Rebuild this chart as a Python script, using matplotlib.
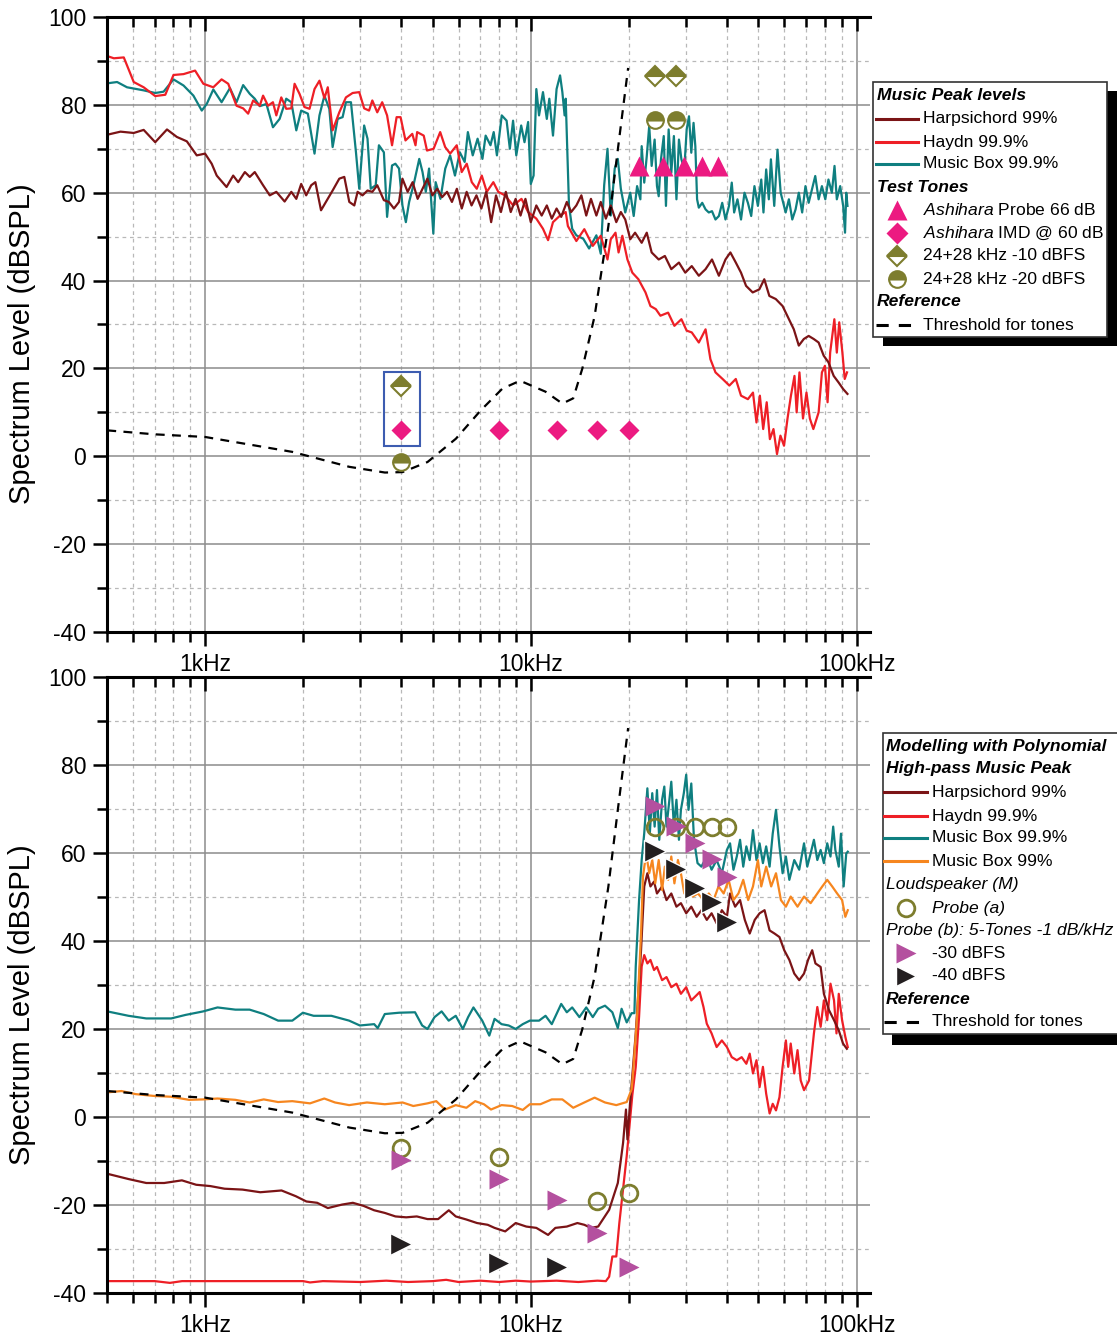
import numpy as np
import matplotlib
matplotlib.use('Agg')
import matplotlib.pyplot as plt
from matplotlib.patches import Rectangle
from matplotlib.ticker import FixedLocator, LogLocator, NullFormatter

plt.rcParams['font.family'] = 'Liberation Sans'
plt.rcParams['mathtext.fontset'] = 'custom'
plt.rcParams['mathtext.it'] = 'Liberation Sans:italic'
plt.rcParams['mathtext.rm'] = 'Liberation Sans'
plt.rcParams['axes.unicode_minus'] = False

# ---------------- data (frequency in Hz, level in dBSPL) ----------------
top_haydn = [(501, 91.1), (525, 90.6), (563, 90.8), (604, 85.2), (648, 84.0), (703, 82.0), (755, 82.3),
             (800, 86.8), (859, 87.0), (932, 87.8), (988, 84.8), (1060, 84.0), (1124, 85.8), (1178, 84.8),
             (1249, 79.8), (1309, 79.2), (1356, 78.0), (1405, 81.0), (1472, 79.8), (1507, 82.1), (1561, 79.8),
             (1616, 80.6), (1655, 77.6), (1714, 81.7), (1775, 79.1), (1840, 79.2), (1883, 84.8), (1950, 82.5),
             (2020, 79.5), (2093, 79.1), (2168, 83.6), (2245, 85.5), (2325, 81.5), (2381, 84.0), (2464, 74.2),
             (2583, 78.3), (2707, 81.7), (2838, 82.7), (2974, 82.9), (3079, 79.2), (3188, 78.7), (3262, 81.0),
             (3378, 78.3), (3498, 80.6), (3621, 77.6), (3750, 70.8), (3873, 77.2), (3983, 77.2), (4124, 71.9),
             (4327, 73.4), (4427, 70.8), (4478, 73.8), (4692, 73.0), (4801, 69.6), (5030, 70.0), (5271, 73.8),
             (5459, 70.4), (5655, 68.9), (5925, 70.8), (6136, 64.7), (6359, 66.6), (6589, 62.4), (6826, 60.9),
             (7072, 63.9), (7327, 60.2), (7674, 62.4), (7947, 60.2), (8329, 59.4), (8831, 57.1), (9365, 58.6),
             (9814, 55.6), (10400, 54.1), (10900, 51.8), (11300, 49.2), (11700, 53.3), (12300, 54.8),
             (12800, 55.6), (13000, 52.4), (13800, 49.0), (14600, 51.7), (15500, 47.9), (16400, 50.2),
             (17200, 44.8), (17600, 49.4), (18200, 50.9), (18600, 46.4), (19100, 50.2), (19800, 44.8),
             (20500, 41.8), (21400, 40.3), (22500, 37.3), (23300, 34.2), (24200, 33.5), (25000, 32.0),
             (26400, 32.7), (27600, 29.7), (29000, 31.2), (30100, 28.6), (31200, 28.2), (32800, 25.9),
             (34400, 28.9), (35600, 22.1), (36900, 19.1), (38800, 17.6), (40700, 16.1), (42600, 17.6),
             (44200, 13.8), (46400, 13.0), (48100, 14.5), (49300, 7.7), (50500, 13.8), (51700, 6.2),
             (53000, 12.3), (54200, 3.9), (55600, 6.2), (57000, 0.5), (58400, 4.7), (59900, 2.4), (61400, 8.6),
             (62900, 13.8), (64500, 18.3), (65500, 10.0), (66800, 19.1), (68500, 8.6), (70200, 14.5),
             (71900, 8.6), (73700, 6.2), (76500, 10.0), (78300, 19.1), (80000, 20.6), (81500, 12.3),
             (83000, 23.6), (85500, 31.2), (87000, 23.6), (88500, 30.5), (90500, 23.6), (92000, 17.6),
             (93500, 19.1)]

top_mbox = [(501, 84.9), (537, 85.2), (576, 84.0), (648, 83.3), (703, 82.7), (746, 83.0), (800, 85.8),
            (859, 84.4), (921, 82.1), (977, 78.7), (1012, 80.2), (1060, 83.5), (1124, 80.6), (1192, 83.8),
            (1249, 80.6), (1309, 84.5), (1372, 82.5), (1421, 81.4), (1472, 79.7), (1543, 80.2), (1616, 74.9),
            (1694, 76.8), (1775, 81.4), (1840, 80.6), (1906, 74.2), (1973, 78.7), (2068, 78.0), (2168, 68.9),
            (2245, 77.6), (2325, 82.1), (2407, 79.1), (2464, 70.4), (2553, 76.8), (2644, 77.2), (2707, 80.6),
            (2805, 80.6), (2906, 69.2), (2974, 60.9), (3079, 75.3), (3153, 72.3), (3226, 60.9), (3341, 61.7),
            (3418, 70.8), (3540, 69.2), (3621, 54.5), (3750, 66.2), (3840, 66.6), (3940, 65.5), (4036, 57.1),
            (4135, 53.3), (4232, 57.9), (4385, 62.4), (4546, 67.7), (4652, 64.7), (4761, 60.2), (4872, 65.5),
            (5021, 50.7), (5104, 62.4), (5280, 58.6), (5463, 65.5), (5654, 68.5), (5851, 63.9), (6055, 69.2),
            (6266, 67.0), (6410, 73.8), (6634, 68.5), (6866, 72.3), (7105, 67.7), (7268, 73.0), (7521, 70.8),
            (7694, 73.8), (7871, 68.5), (8145, 77.6), (8429, 76.4), (8624, 70.0), (8823, 76.4), (9026, 68.5),
            (9344, 75.3), (9566, 71.5), (9814, 76.1), (10000, 62.0), (10200, 63.9), (10400, 83.6),
            (10600, 77.6), (10900, 82.9), (11200, 76.8), (11400, 81.4), (11700, 73.0), (12000, 83.6),
            (12300, 86.7), (12500, 82.9), (12700, 77.6), (12800, 81.4), (13100, 57.1), (13400, 51.8),
            (13800, 50.3), (14500, 49.5), (15100, 47.3), (15900, 50.3), (16400, 46.1), (16800, 61.7),
            (17200, 70.0), (17600, 54.8), (18100, 65.5), (18500, 67.7), (18900, 60.9), (19500, 55.5),
            (20200, 60.0), (20700, 54.7), (21200, 61.5), (21700, 58.5), (21900, 70.6), (22300, 62.3),
            (22700, 68.3), (23100, 75.2), (23500, 66.1), (24000, 72.1), (24400, 61.5), (24700, 59.2),
            (25100, 67.6), (25600, 72.9), (26000, 57.0), (26500, 74.4), (27000, 64.5), (27500, 72.9),
            (28000, 58.5), (28500, 72.1), (29000, 67.6), (29600, 65.3), (30100, 74.4), (30600, 77.4),
            (31100, 69.1), (31600, 75.9), (32000, 70.6), (32400, 58.5), (32800, 56.6), (33600, 57.7),
            (34400, 56.2), (35200, 55.5), (36000, 55.8), (36900, 53.9), (37800, 54.7), (38700, 57.7),
            (39600, 53.9), (40600, 57.0), (41400, 62.3), (42100, 55.5), (43100, 58.5), (44200, 53.9),
            (45300, 60.0), (46400, 57.7), (47500, 54.7), (48600, 61.5), (49800, 57.0), (51000, 63.0),
            (51800, 55.5), (52800, 65.3), (53800, 58.5), (54600, 67.6), (55900, 57.0), (57200, 69.8),
            (58500, 60.0), (60600, 55.5), (62000, 58.5), (63500, 53.9), (65000, 56.2), (66500, 60.0),
            (68100, 55.5), (69700, 61.5), (71300, 57.7), (73000, 60.8), (74700, 63.8), (76500, 58.5),
            (78300, 61.5), (80200, 58.5), (82000, 63.0), (84000, 60.0), (85600, 66.1), (87000, 58.5),
            (89100, 61.5), (91000, 57.0), (92200, 50.9), (93000, 60.0), (93800, 57.0)]

top_harp = [(501, 73.2), (550, 73.9), (604, 73.6), (648, 74.3), (703, 71.5), (764, 74.4), (819, 72.7),
            (879, 71.7), (943, 68.5), (1000, 68.9), (1048, 66.6), (1086, 63.9), (1164, 61.3), (1220, 63.9),
            (1264, 62.4), (1325, 64.7), (1372, 63.6), (1421, 64.7), (1507, 61.7), (1580, 59.4), (1655, 60.2),
            (1755, 58.0), (1840, 60.2), (1906, 58.6), (1973, 62.0), (2044, 59.4), (2118, 61.7), (2181, 62.4),
            (2270, 56.0), (2381, 58.6), (2464, 60.5), (2583, 63.2), (2676, 63.6), (2772, 57.9), (2872, 57.1),
            (2940, 60.2), (3044, 59.4), (3153, 60.5), (3262, 60.2), (3378, 61.7), (3540, 58.3), (3666, 57.9),
            (3801, 56.4), (3940, 57.9), (4036, 63.2), (4188, 60.2), (4338, 62.4), (4494, 58.6), (4652, 60.9),
            (4816, 63.2), (4987, 59.4), (5163, 60.9), (5344, 59.0), (5532, 60.2), (5727, 57.9), (5930, 60.9),
            (6139, 56.4), (6355, 60.2), (6579, 57.1), (6811, 59.4), (7051, 56.4), (7299, 60.2), (7556, 53.3),
            (7822, 59.4), (8098, 55.6), (8383, 60.2), (8678, 55.6), (8984, 58.6), (9301, 54.8), (9629, 58.6),
            (10000, 53.3), (10400, 57.1), (10800, 54.8), (11200, 57.1), (11600, 54.1), (12000, 56.4),
            (12400, 54.5), (12900, 57.9), (13300, 55.6), (13800, 57.1), (14300, 59.4), (14800, 54.8),
            (15300, 58.6), (15900, 54.8), (16400, 57.9), (17000, 54.1), (17600, 57.1), (18300, 53.3),
            (18900, 55.6), (19500, 53.9), (20200, 49.4), (20900, 50.9), (21900, 48.6), (22700, 50.9),
            (23500, 46.4), (24700, 44.8), (25800, 45.6), (27000, 42.6), (28500, 44.1), (29800, 41.8),
            (31200, 43.3), (32800, 41.1), (34400, 42.6), (36000, 44.8), (37800, 41.1), (39600, 44.8),
            (41000, 46.4), (42600, 44.1), (44200, 41.8), (45800, 38.8), (48000, 37.3), (50300, 38.0),
            (52100, 40.3), (54000, 36.5), (56500, 35.8), (59300, 34.2), (62000, 31.2), (64200, 28.9),
            (66500, 25.2), (68900, 26.7), (71300, 27.4), (73900, 26.7), (76500, 25.9), (79300, 22.9),
            (82000, 21.4), (85100, 18.3), (88100, 16.8), (91000, 15.3), (93800, 14.2)]

threshold = [(501, 5.9), (700, 5.0), (1000, 4.4), (1854, 1.0), (2772, -2.4), (3566, -3.7), (4040, -3.6),
             (4820, -1.3), (5890, 4.0), (7030, 10.5), (8180, 15.4), (9270, 17.2), (11100, 14.7),
             (12500, 12.0), (13500, 13.2), (14400, 20.0), (15100, 26.5), (15700, 31.9), (17300, 52.3),
             (18500, 69.8), (19900, 88.4)]

bot_mbox = [(501, 24.0), (582, 23.0), (660, 22.4), (787, 22.4), (871, 23.2), (987, 24.0), (1092, 24.9),
            (1239, 24.4), (1370, 24.4), (1514, 23.4), (1676, 21.9), (1853, 21.9), (1997, 23.7), (2154, 23.0),
            (2442, 23.0), (2769, 21.9), (2987, 20.8), (3305, 21.1), (3389, 20.2), (3563, 23.4), (3943, 23.7),
            (4412, 23.8), (4640, 20.8), (4818, 20.0), (5064, 22.7), (5324, 24.0), (5597, 21.9), (5884, 23.0),
            (6185, 20.0), (6421, 22.7), (6667, 24.9), (7095, 21.9), (7458, 18.5), (7741, 22.3), (8135, 21.1),
            (8551, 20.8), (8988, 20.0), (9448, 21.1), (9932, 21.9), (10600, 21.9), (11100, 23.0),
            (11600, 21.1), (12400, 25.7), (12900, 23.8), (13400, 24.9), (14100, 22.7), (14800, 24.9),
            (15500, 22.7), (16100, 24.6), (16900, 25.3), (17800, 23.8), (18500, 20.2), (19000, 24.6),
            (19700, 21.5), (20400, 23.6), (20800, 23.6), (21000, 34.2), (21500, 49.3), (21900, 58.4),
            (22300, 64.5), (22800, 74.7), (23200, 64.5), (23600, 73.6), (24000, 66.0), (24400, 74.3),
            (24800, 63.0), (25300, 72.1), (25700, 75.1), (26100, 66.0), (26500, 70.5), (27000, 76.2),
            (27500, 66.0), (28000, 72.1), (28500, 63.0), (28900, 69.8), (29500, 73.6), (30000, 77.8),
            (30500, 69.8), (31100, 75.8), (31700, 63.0), (32500, 57.7), (33400, 56.9), (34700, 59.2),
            (35900, 56.2), (37200, 58.4), (38600, 55.4), (40000, 60.7), (40900, 62.2), (41900, 56.2),
            (42900, 59.2), (43900, 63.0), (44900, 56.9), (45900, 61.5), (47000, 58.4), (48100, 65.2),
            (49300, 58.4), (50400, 62.2), (51600, 57.7), (52800, 61.5), (54100, 56.9), (55300, 64.4),
            (56600, 69.8), (58000, 61.5), (59300, 55.4), (60700, 59.2), (62200, 53.9), (64400, 58.4),
            (66700, 56.2), (69000, 62.2), (70600, 56.9), (72300, 59.9), (74000, 63.0), (75800, 58.4),
            (77600, 60.7), (79400, 57.7), (81300, 62.2), (83200, 59.2), (84800, 66.0), (86100, 60.7),
            (88200, 56.9), (89600, 64.4), (91300, 52.4), (93000, 59.9), (94000, 60.3)]

bot_mbox99 = [(501, 5.6), (554, 5.9), (612, 5.2), (694, 4.8), (787, 4.6), (893, 3.9), (987, 4.0), (1092, 4.2),
              (1239, 3.9), (1370, 3.3), (1514, 4.0), (1676, 3.4), (1853, 3.6), (2100, 3.1), (2323, 4.2),
              (2506, 3.3), (2769, 2.7), (3140, 3.3), (3563, 2.9), (4041, 3.3), (4358, 2.5), (4818, 3.1),
              (5127, 3.6), (5455, 1.7), (5884, 2.7), (6344, 2.1), (6751, 3.6), (7180, 2.9), (7549, 1.7),
              (8135, 2.7), (8767, 2.5), (9448, 1.6), (9932, 2.9), (10700, 2.9), (11600, 4.0), (12500, 4.0),
              (13500, 2.1), (14600, 3.3), (15700, 4.4), (16900, 3.3), (18300, 2.7), (19700, 3.4), (20400, 6.3),
              (20600, 9.9), (21200, 22.8), (21800, 41.7), (22100, 54.6), (22600, 59.9), (23100, 55.4),
              (23600, 58.4), (24100, 53.1), (24700, 58.4), (25300, 51.6), (25800, 56.9), (26400, 53.9),
              (27000, 59.2), (27600, 53.1), (28300, 58.4), (28900, 55.4), (29600, 50.8), (30500, 52.4),
              (31400, 50.1), (32600, 50.8), (33900, 49.3), (35200, 50.8), (36400, 49.3), (37700, 52.4),
              (39100, 50.8), (40500, 53.9), (41900, 49.3), (43400, 50.8), (44900, 53.9), (46500, 49.3),
              (48100, 52.4), (49800, 58.4), (51000, 52.4), (52800, 56.9), (54700, 52.4), (56600, 55.4),
              (58600, 49.3), (60700, 47.8), (62800, 50.1), (65900, 47.8), (69000, 50.1), (72300, 48.6),
              (75800, 50.8), (78500, 52.4), (81300, 53.9), (84200, 52.4), (87200, 50.8), (90300, 49.3),
              (92400, 45.5), (94000, 47.0)]

bot_harp = [(501, -12.9), (582, -14.1), (660, -15.0), (749, -15.0), (849, -14.4), (939, -15.4), (1038, -15.7),
            (1148, -16.3), (1303, -16.5), (1477, -17.1), (1717, -16.7), (1899, -18.0), (2047, -19.2),
            (2209, -19.5), (2382, -20.7), (2635, -19.9), (2843, -19.5), (3066, -20.2), (3305, -21.2),
            (3563, -21.8), (3842, -22.6), (4144, -22.8), (4468, -22.6), (4818, -23.2), (5194, -23.2),
            (5601, -21.2), (5884, -22.6), (6344, -23.3), (6840, -24.1), (7375, -24.5), (7741, -25.2),
            (8345, -26.0), (8988, -24.1), (9686, -24.9), (10400, -25.2), (11300, -26.8), (11900, -25.2),
            (12900, -24.9), (13900, -24.1), (14600, -24.5), (15300, -25.2), (16100, -24.9), (17400, -21.1),
            (18500, -15.0), (19200, -5.9), (19600, 1.7), (19800, -5.1), (20100, 1.6), (21000, 19.0),
            (21800, 37.9), (22300, 52.4), (22800, 55.4), (23300, 52.4), (23900, 53.5), (24400, 50.8),
            (25300, 52.4), (26100, 49.3), (27000, 50.8), (28000, 47.8), (28900, 48.6), (30000, 46.3),
            (31100, 47.8), (32300, 45.5), (33400, 47.0), (34700, 44.8), (35900, 46.3), (37200, 44.0),
            (38600, 47.0), (40000, 45.5), (40900, 50.8), (42400, 47.8), (43900, 49.3), (45400, 44.8),
            (47000, 41.7), (48700, 44.8), (50400, 46.3), (52200, 47.0), (54100, 42.4), (56000, 41.7),
            (58000, 40.9), (60000, 37.9), (62200, 35.7), (64400, 32.6), (66700, 31.1), (69000, 32.6),
            (71000, 35.7), (73100, 37.9), (74800, 34.9), (77600, 34.1), (79400, 28.0), (82300, 24.3),
            (85300, 22.0), (88200, 19.7), (90900, 16.7), (93400, 15.5)]

bot_haydn = [(501, -37.3), (700, -37.3), (780, -37.7), (850, -37.3), (2000, -37.3), (2100, -37.6), (2300, -37.3),
             (3000, -37.5), (3600, -37.2), (4200, -37.5), (5000, -37.3), (5500, -37.0), (6000, -37.5),
             (7000, -37.2), (8000, -37.5), (9000, -37.2), (10000, -37.4), (12000, -37.2), (14000, -37.5),
             (16000, -37.2), (17000, -37.3), (17400, -36.3), (17800, -31.7), (18300, -31.7), (18700, -24.1),
             (19700, -8.9), (20500, 5.0), (21000, 11.4), (21500, 22.8), (21900, 34.2), (22300, 36.8),
             (22800, 34.9), (23300, 35.7), (23900, 33.4), (24400, 34.1), (25300, 31.1), (26100, 31.8),
             (27000, 29.5), (28000, 30.3), (28900, 28.0), (30000, 29.5), (31100, 26.5), (32300, 27.7),
             (33000, 28.4), (33900, 25.0), (34700, 21.2), (35900, 19.0), (37200, 15.9), (38600, 17.4),
             (40000, 15.9), (41400, 13.6), (42900, 12.9), (44400, 13.6), (45900, 12.1), (47000, 14.4),
             (48100, 9.9), (49300, 12.9), (50400, 6.8), (51600, 11.4), (52800, 5.3), (54100, 0.8), (55300, 3.0),
             (56600, 1.5), (58000, 4.5), (59300, 11.4), (60700, 17.4), (61700, 11.4), (62800, 16.7),
             (64400, 9.9), (65900, 15.2), (67400, 8.3), (69000, 6.1), (71500, 8.3), (74000, 19.0), (75800, 25.0),
             (77600, 20.5), (79400, 26.5), (81300, 22.0), (83200, 30.3), (85300, 26.5), (86800, 19.0),
             (88200, 28.0), (90300, 22.0), (92400, 18.2), (94000, 15.9)]

# test tones (top)
probe_f = [21500, 25500, 29500, 33500, 37500]
probe_db = [66, 66, 66, 66, 66]
imd_f = [4000, 8000, 12000, 16000, 20000]
imd_db = [6, 6, 6, 6, 6]
tone10_f = [4000, 24000, 28000]
tone10_db = [16.0, 86.6, 86.6]
tone20_f = [4000, 24000, 28000]
tone20_db = [-1.2, 76.6, 76.6]

# loudspeaker model markers (bottom)
probe_a_f = [4000, 8000, 16000, 20000, 24000, 28000, 32000, 36000, 40000]
probe_a_db = [-7.0, -9.1, -19.2, -17.2, 66, 66, 66, 66, 66]
b30_f = [4000, 8000, 12000, 16000, 20000, 24000, 28000, 32000, 36000, 40000]
b30_db = [-9.8, -14.2, -18.9, -26.4, -34.0, 70.7, 66.1, 62.3, 58.6, 54.5]
b40_f = [4000, 8000, 12000, 24000, 28000, 32000, 36000, 40000]
b40_db = [-28.9, -33.2, -34.1, 60.5, 56.4, 52.0, 48.9, 44.3]

DARKRED = '#7b1416'
RED = '#ee1f26'
TEAL = '#0f7f80'
ORANGE = '#f6861f'
PINK = '#ec1a81'
OLIVE = '#7d7d2e'
VIOLET = '#b4509f'
BLACK = '#231f20'

W, H = 1117, 1335
fig = plt.figure(figsize=(W / 100, H / 100), dpi=100)


def box(l, t, r, b):
    return [l / W, 1 - b / H, (r - l) / W, (b - t) / H]


def log_x(ax):
    ax.set_xscale('log')
    ax.set_xlim(500, 110000)
    ax.xaxis.set_major_locator(FixedLocator([1e3, 1e4, 1e5]))
    ax.xaxis.set_minor_locator(LogLocator(base=10, subs=np.arange(2, 10)))
    ax.xaxis.set_minor_formatter(NullFormatter())


def style(ax):
    log_x(ax)
    ax.set_xticklabels(['1kHz', '10kHz', '100kHz'])
    ax.set_ylim(-40, 100)
    ax.set_yticks(np.arange(-40, 101, 20))
    ax.set_yticks(np.arange(-30, 100, 20), minor=True)
    ax.grid(which='major', color='#8c8c8c', lw=1.1)
    ax.grid(which='minor', color='#b8b8b8', lw=0.9, ls=(0, (3, 3)))
    ax.set_axisbelow(True)
    ax.tick_params(which='both', direction='out', width=1.8, labelsize=16.5, pad=5)
    ax.tick_params(which='major', length=10)
    ax.tick_params(which='minor', length=7)
    ax.spines['right'].set_visible(False)
    ax.spines['top'].set_visible(False)
    for s in ['left', 'bottom']:
        ax.spines[s].set_linewidth(2.2)
    # top frame with inward ticks
    tw = ax.twiny()
    log_x(tw)
    tw.tick_params(which='both', direction='in', width=1.8, labeltop=False)
    tw.tick_params(which='major', length=10)
    tw.tick_params(which='minor', length=7)
    for s in ['left', 'bottom', 'right']:
        tw.spines[s].set_visible(False)
    tw.spines['top'].set_linewidth(2.2)
    ax.set_ylabel('Spectrum Level (dBSPL)', fontsize=21)
    ax.yaxis.set_label_coords(-0.093, 0.468)


def curve(ax, pairs, color, **kw):
    f, db = np.array(pairs).T
    kw.setdefault('lw', 1.6)
    ax.plot(f, db, color=color, **kw)


thr_style = dict(ls=(0, (4, 3.3)), lw=1.6)

# ---------------- top panel ----------------
ax1 = fig.add_axes(box(107, 17, 870, 632))
style(ax1)
curve(ax1, top_mbox, TEAL)
curve(ax1, top_haydn, RED)
curve(ax1, top_harp, DARKRED)
curve(ax1, threshold, 'black', **thr_style)
ax1.plot(probe_f, probe_db, '^', color=PINK, ms=14, mec='none', zorder=5)
ax1.plot(imd_f, imd_db, 'D', color=PINK, ms=10.5, mec='none', zorder=5)
ax1.plot(tone10_f, tone10_db, 'D', ms=10.5, mfc=OLIVE, mfcalt='white', mec=OLIVE, mew=1.5,
         fillstyle='top', ls='none', zorder=5)
ax1.plot(tone20_f, tone20_db, 'o', ms=12, mfc=OLIVE, mfcalt='white', mec=OLIVE, mew=1.5,
         fillstyle='top', ls='none', zorder=5)
ax1.add_patch(Rectangle((3540, 2.3), 4565 - 3540, 19.1 - 2.3, fill=False, ec='#3d5cb0', lw=1.5, zorder=6))

# ---------------- bottom panel ----------------
ax2 = fig.add_axes(box(107, 677, 870, 1293))
style(ax2)
curve(ax2, bot_mbox, TEAL)
curve(ax2, bot_haydn, RED)
curve(ax2, bot_harp, DARKRED)
curve(ax2, bot_mbox99, ORANGE)
curve(ax2, threshold, 'black', **thr_style)
ax2.plot(probe_a_f, probe_a_db, 'o', ms=12, mfc='none', mec=OLIVE, mew=2, ls='none', zorder=5)
ax2.plot(b30_f, b30_db, '>', ms=14, color=VIOLET, mec='none', ls='none', zorder=6)
ax2.plot(b40_f, b40_db, '>', ms=16, color=BLACK, mec='white', mew=1, ls='none', zorder=6)

# ---------------- legends (drawn in pixel space) ----------------
ov = fig.add_axes([0, 0, 1, 1], zorder=10)
ov.set_xlim(0, W)
ov.set_ylim(H, 0)
ov.axis('off')

LFS = 12.6


def legend(l, t, r, b, rows, xh, xl, xt, dx=10, dy=10):
    ov.add_patch(Rectangle((l + dx, t + dy), r - l, b - t, fc='black', ec='none'))
    ov.add_patch(Rectangle((l, t), r - l, b - t, fc='white', ec='#333333', lw=1.2))
    xm = (xl[0] + xl[1]) / 2
    for kind, y, text, opt in rows:
        if kind == 'head':
            ov.text(xh, y, text, fontsize=LFS, va='center', **opt)
            continue
        if kind == 'line':
            ov.plot(xl, [y, y], **opt)
        elif kind == 'mark':
            ov.plot([xm], [y], ls='none', **opt)
        ov.text(xt, y, text, fontsize=LFS, va='center')


BI = dict(fontweight='bold', fontstyle='italic')
IT = dict(fontstyle='italic')
ashi = r'$\mathit{Ashihara}$'
leg_dash = dict(color='black', lw=2.2, ls=(0, (4, 3.3)))

top_rows = [
    ('head', 96, 'Music Peak levels', BI),
    ('line', 119, 'Harpsichord 99%', dict(color=DARKRED, lw=2.2)),
    ('line', 142, 'Haydn 99.9%', dict(color=RED, lw=2.2)),
    ('line', 164, 'Music Box 99.9%', dict(color=TEAL, lw=2.2)),
    ('head', 188, 'Test Tones', BI),
    ('mark', 210, ashi + ' Probe 66 dB', dict(marker='^', ms=14, color=PINK, mec='none')),
    ('mark', 233, ashi + ' IMD @ 60 dB', dict(marker='D', ms=11, color=PINK, mec='none')),
    ('mark', 256, '24+28 kHz -10 dBFS', dict(marker='D', ms=10.5, mfc=OLIVE, mfcalt='white', mec=OLIVE,
                                              mew=1.5, fillstyle='top')),
    ('mark', 279, '24+28 kHz -20 dBFS', dict(marker='o', ms=12, mfc=OLIVE, mfcalt='white', mec=OLIVE,
                                              mew=1.5, fillstyle='top')),
    ('head', 302, 'Reference', BI),
    ('line', 325, 'Threshold for tones', leg_dash),
]
legend(873, 82, 1107, 337, top_rows, 877, (876, 918), 923, dx=10, dy=9)

bot_rows = [
    ('head', 746, 'Modelling with Polynomial', BI),
    ('head', 769, 'High-pass Music Peak', BI),
    ('line', 792, 'Harpsichord 99%', dict(color=DARKRED, lw=2.2)),
    ('line', 816, 'Haydn 99.9%', dict(color=RED, lw=2.2)),
    ('line', 838, 'Music Box 99.9%', dict(color=TEAL, lw=2.2)),
    ('line', 861, 'Music Box 99%', dict(color=ORANGE, lw=2.2)),
    ('head', 884, 'Loudspeaker (M)', IT),
    ('mark', 908, '', dict(marker='o', ms=12, mfc='none', mec=OLIVE, mew=2)),
    ('head', 930, 'Probe (b): 5-Tones -1 dB/kHz', IT),
    ('mark', 953, '-30 dBFS', dict(marker='>', ms=14, color=VIOLET, mec='none')),
    ('mark', 976, '-40 dBFS', dict(marker='>', ms=15, color=BLACK, mec='white', mew=1)),
    ('head', 999, 'Reference', BI),
    ('line', 1022, 'Threshold for tones', leg_dash),
]
legend(883, 733, 1130, 1034, bot_rows, 886, (884, 927), 932, dx=9, dy=11)
ov.text(932, 908, 'Probe (a)', fontsize=LFS, va='center', fontstyle='italic')

fig.savefig('out.png', dpi=100)
